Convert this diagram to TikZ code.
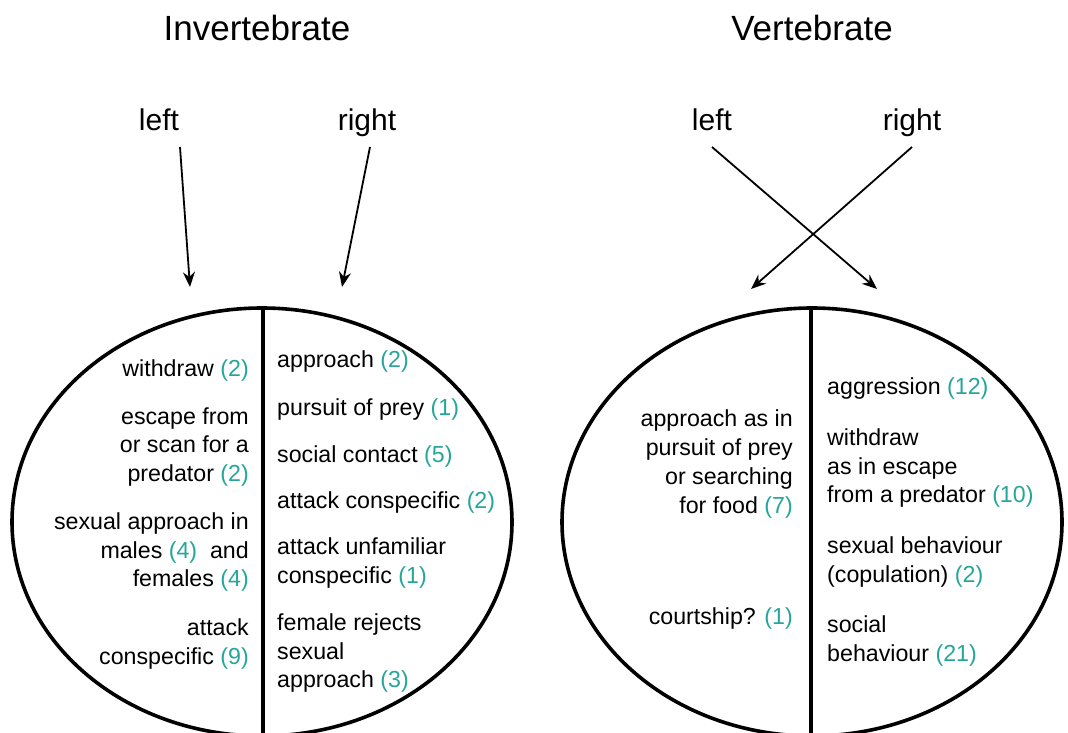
\documentclass[tikz,border=0pt]{standalone}
\usepackage{fontspec}
\setmainfont{Liberation Sans}
\usetikzlibrary{arrows.meta,positioning}
\definecolor{tealnum}{RGB}{38,166,154}
\tikzset{%
   title/.style={inner sep=0pt, anchor=base, font=\fontsize{35}{40}\selectfont},
   side/.style={inner sep=0pt, anchor=base, font=\fontsize{30}{36}\selectfont},
   lhs/.style={inner sep=0pt, anchor=east, align=right, font=\fontsize{23.2}{28.7}\selectfont},
   rhs/.style={inner sep=0pt, anchor=west, align=left, font=\fontsize{23.2}{28.7}\selectfont},
   arr/.style={-{Stealth[length=15pt, width=12pt]}, line width=1.8pt},
   oval/.style={line width=3.6pt},
   split/.style={line width=3.2pt},
}
\newcommand\cnt[1]{\textcolor{tealnum}{(#1)}}

\begin{document}
\begin{tikzpicture}[x=1pt, y=-1pt]
      \useasboundingbox (0,0) rectangle (1068,733);
      \clip (0,0) rectangle (1068,733);
      % invertebrate
      \node[title] (tInv) at (257,41) {Invertebrate};
      \node[side] (lInv) at (159,131) {left};
      \node[side] (rInv) at (367,131) {right};
      \coordinate (lInvS) at (180,147);
      \coordinate (rInvS) at (370,147);
      \coordinate (lInvT) at (190,287);
      \coordinate (rInvT) at (342,287);
      \draw[arr] (lInvS) -- (lInvT);
      \draw[arr] (rInvS) -- (rInvT);
      \draw[oval] (262,522) ellipse [x radius=250, y radius=214];
      \draw[split] (263,308) -- (263,740);
      \node[lhs] (a1) at (249,370) {withdraw \cnt{2}};
      \node[lhs] (a2) at (249,447) {escape from\\or scan for a\\predator \cnt{2}};
      \node[lhs] (a3) at (249,552) {sexual approach in\\males \cnt{4}\ \ and\\females \cnt{4}};
      \node[lhs] (a4) at (249,644) {attack\\conspecific \cnt{9}};
      \node[rhs] (b1) at (277,361) {approach \cnt{2}};
      \node[rhs] (b2) at (277,409) {pursuit of prey \cnt{1}};
      \node[rhs] (b3) at (277,456) {social contact \cnt{5}};
      \node[rhs] (b4) at (277,502) {attack conspecific \cnt{2}};
      \node[rhs] (b5) at (277,563) {attack unfamiliar\\conspecific \cnt{1}};
      \node[rhs] (b6) at (277,653) {female rejects\\sexual\\approach \cnt{3}};
      % vertebrate
      \node[title] (tVert) at (812,41) {Vertebrate};
      \node[side] (lVert) at (712,131) {left};
      \node[side] (rVert) at (912,131) {right};
      \coordinate (lVertS) at (712,147);
      \coordinate (rVertS) at (912,147);
      \coordinate (lVertT) at (877,289);
      \coordinate (rVertT) at (751,289);
      \draw[arr] (lVertS) -- (lVertT);
      \draw[arr] (rVertS) -- (rVertT);
      \draw[oval] (812,522) ellipse [x radius=250, y radius=214];
      \draw[split] (811,308) -- (811,740);
      \node[lhs] (c1) at (793,464) {approach as in\\pursuit of prey\\or searching\\for food \cnt{7}};
      \node[lhs] (c2) at (793,618) {courtship? \cnt{1}};
      \node[rhs] (d1) at (827,388) {aggression \cnt{12}};
      \node[rhs] (d2) at (827,468) {withdraw\\as in escape\\from a predator \cnt{10}};
      \node[rhs] (d3) at (827,562) {sexual behaviour\\(copulation) \cnt{2}};
      \node[rhs] (d4) at (827,641) {social\\behaviour \cnt{21}};
\end{tikzpicture}
\end{document}
